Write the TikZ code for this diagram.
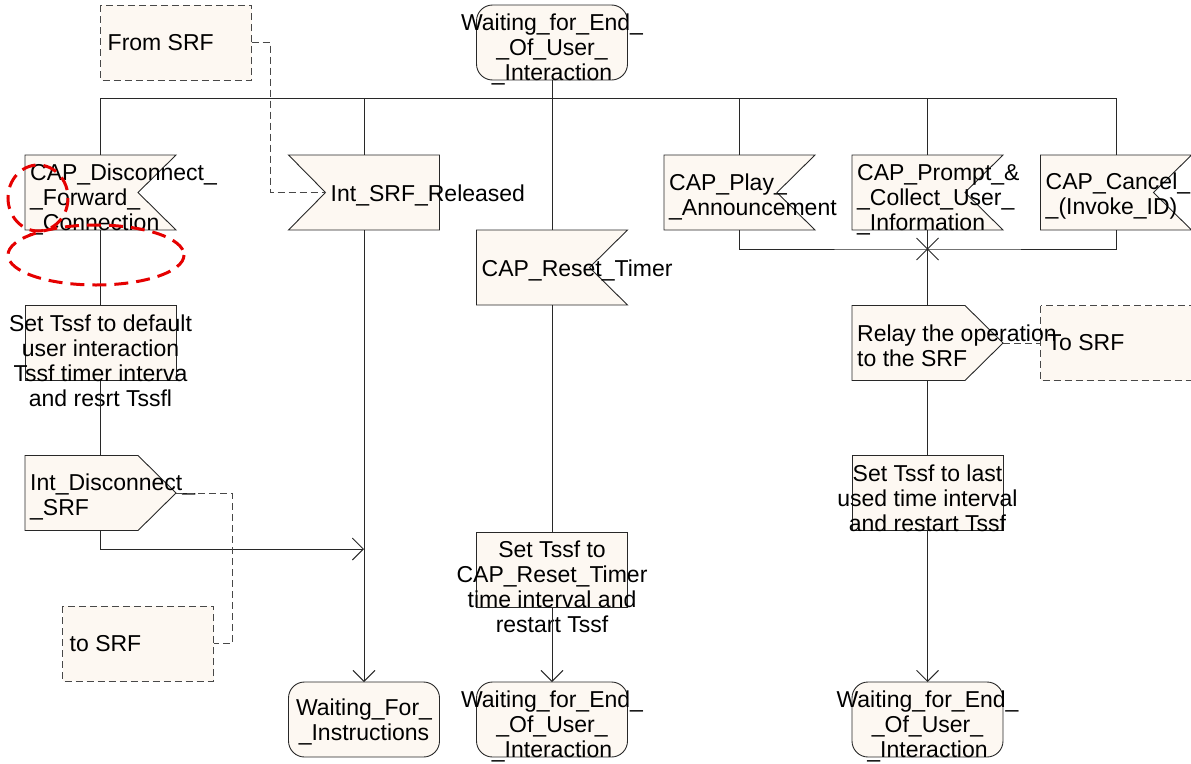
\documentclass[tikz,border=0pt]{standalone}
\usepackage{fontspec}
\setmainfont{Liberation Sans}
\usetikzlibrary{arrows.meta}
\definecolor{cream}{RGB}{253,248,242}
\definecolor{ink}{RGB}{40,40,40}

\tikzset{
  frame/.style={draw=none, minimum width=151pt, minimum height=75pt, inner sep=0pt, outer sep=0pt},
  shp/.style={draw=ink, fill=cream, line width=0.9pt, line join=miter},
  dshp/.style={draw=ink!85, fill=cream, line width=0.9pt, dash pattern=on 7pt off 4pt},
  lbl/.style={font=\fontsize{23}{25}\selectfont, inner sep=0pt, text=black},
  lblL/.style={lbl, anchor=west, align=left},
  lblC/.style={lbl, align=center},
  flow/.style={draw=ink, line width=0.9pt},
  arr/.style={flow, -{Straight Barb[length=11pt,width=22pt]}},
  dlink/.style={draw=ink!85, line width=0.9pt, dash pattern=on 7pt off 4pt},
  remark/.style={draw=red!90!black, line width=3pt, dash pattern=on 14pt off 8pt}
}

% input signal, notch on the right
\newcommand\SigIn[4]{%
  \node[frame] (#1) at (#2) {};
  \path[shp] (#1.north west) -- (#1.north east) -- ([xshift=-38pt]#1.east)
    -- (#1.south east) -- (#1.south west) -- cycle;
  \node[lblL,#3] (#1-t) at ([xshift=5pt]#1.west) {#4};}
% input signal, notch on the left
\newcommand\SigInLeft[4]{%
  \node[frame] (#1) at (#2) {};
  \path[shp] (#1.north west) -- (#1.north east) -- (#1.south east)
    -- (#1.south west) -- ([xshift=37pt]#1.west) -- cycle;
  \coordinate (#1-in) at ([xshift=37pt]#1.west);
  \node[lblL,#3] (#1-t) at ([xshift=42pt]#1.west) {#4};}
% output signal
\newcommand\SigOut[4]{%
  \node[frame] (#1) at (#2) {};
  \path[shp] (#1.north west) -- ([xshift=-38pt]#1.north east) -- (#1.east)
    -- ([xshift=-38pt]#1.south east) -- (#1.south west) -- cycle;
  \node[lblL,#3] (#1-t) at ([xshift=5pt]#1.west) {#4};}
% task box, text hung from the top
\newcommand\Task[3]{%
  \node[frame] (#1) at (#2) {};
  \path[shp] (#1.north west) rectangle (#1.south east);
  \node[lblC,anchor=north] (#1-t) at ([yshift=-9pt]#1.north) {#3};}
% state symbol
\newcommand\State[4]{%
  \node[frame] (#1) at (#2) {};
  \path[shp, rounded corners=16pt] (#1.north west) rectangle (#1.south east);
  \node[lblC,#3] (#1-t) at (#1.center) {#4};}
% comment symbol, dashed
\newcommand\Note[4]{%
  \node[frame] (#1) at (#2) {};
  \path[dshp] (#1.north west) rectangle (#1.south east);
  \node[lblL,#3] (#1-t) at ([xshift=7pt]#1.west) {#4};}

\begin{document}
\begin{tikzpicture}[x=1pt,y=-1pt]
\useasboundingbox (0,0) rectangle (1191,763);

% ---- symbols ----
\Note{fromsrf}{176,42.5}{}{From SRF}
\State{top}{552,42.5}{yshift=-7pt}{Waiting\_for\_End\_\\\_Of\_User\_\\\_Interaction}

\SigIn{cdfc}{100.5,192.5}{yshift=-7pt}{CAP\_Disconnect\_\\\_Forward\_\\\_Connection}
\SigInLeft{isr}{364,192.5}{yshift=-3pt}{Int\_SRF\_Released}
\SigIn{crt}{552,267.5}{yshift=-3pt}{CAP\_Reset\_Timer}
\SigIn{cpa}{739.5,192.5}{yshift=-4pt}{CAP\_Play\_\\\_Announcement}
\SigIn{cpc}{927.5,192.5}{yshift=-7pt}{CAP\_Prompt\_\&\\\_Collect\_User\_\\\_Information}
\SigIn{ccl}{1116,192.5}{yshift=-4pt}{CAP\_Cancel\_\\\_(Invoke\_ID)}

\Note{tosrf}{1116,343}{}{To SRF}
\SigOut{relay}{927.5,343}{yshift=-3pt}{Relay the operation\\to the SRF}
\Task{tlast}{927.5,493}{Set Tssf to last\\used time interval\\and restart Tssf}
\State{sbr}{927.5,719.5}{yshift=-7pt}{Waiting\_for\_End\_\\\_Of\_User\_\\\_Interaction}

\Task{tdef}{100.5,343}{Set Tssf to default\\user interaction\\Tssf timer interva\\and resrt Tssfl}
\SigOut{idis}{100.5,493}{yshift=-4pt}{Int\_Disconnect\_\\\_SRF}
\Note{tosrfL}{138,643.5}{}{to SRF}
\State{wfi}{364,719.5}{yshift=-2.5pt}{Waiting\_For\_\\\_Instructions}

\Task{treset}{552,569.5}{Set Tssf to\\CAP\_Reset\_Timer\\time interval and\\restart Tssf}
\State{sbm}{552,719.5}{yshift=-7pt}{Waiting\_for\_End\_\\\_Of\_User\_\\\_Interaction}

% ---- connectors ----
\coordinate (busL) at (100.5,98);
\coordinate (busR) at (1116,98);
\draw[flow] (busL) -- (busR);
\draw[flow] (top.south) -- (crt.north);
\draw[flow] (cdfc.north |- busL) -- (cdfc.north);
\draw[flow] (isr.north |- busL) -- (isr.north);
\draw[flow] (cpa.north |- busL) -- (cpa.north);
\draw[flow] (cpc.north |- busL) -- (cpc.north);
\draw[flow] (ccl.north |- busL) -- (ccl.north);

\draw[flow] (cdfc.south) -- (tdef.north);
\draw[flow] (tdef.south) -- (idis.north);
\coordinate (j1) at (364,549);
\draw[arr] (idis.south) |- (j1);
\draw[arr] (isr.south) -- (wfi.north);

\draw[flow] (crt.south) -- (treset.north);
\draw[arr] (treset.south) -- (sbm.north);

\coordinate (mrg) at (927.5,249);
\draw[flow] (cpa.south) |- (mrg) -| (ccl.south);
\draw[flow] (cpc.south) -- (relay.north);
\draw[flow] ([shift={(-11,-11)}]mrg) -- ([shift={(11,11)}]mrg);
\draw[flow] ([shift={(-11,11)}]mrg) -- ([shift={(11,-11)}]mrg);
\draw[flow] (relay.south) -- (tlast.north);
\draw[arr] (tlast.south) -- (sbr.north);

\draw[dlink] (fromsrf.east) -- ++(19,0) |- (isr-in);
\draw[dlink] (relay.east) -- (tosrf.west);
\draw[dlink] (idis.east) -- ++(56,0) |- (tosrfL.east);

% ---- red review marks ----
\draw[remark] (38,198) ellipse (30 and 33);
\draw[remark] (96,255) ellipse (88 and 30);
\end{tikzpicture}
\end{document}
